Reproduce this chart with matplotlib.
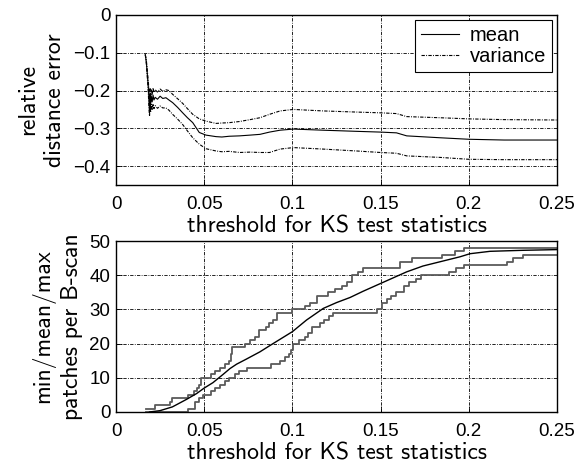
import matplotlib.pyplot as plt
import numpy as np

# ---- top panel: relative distance error ----
ks_top = [0.0166, 0.0172, 0.0178, 0.0183, 0.0187, 0.0190, 0.0193, 0.0196, 0.0200, 0.0205,
          0.0210, 0.0215, 0.0222, 0.0235, 0.0250, 0.0265, 0.0283, 0.0300, 0.0321, 0.0350,
          0.0378, 0.0405, 0.0435, 0.0472, 0.0510, 0.0567, 0.0600, 0.0642, 0.0700, 0.0760,
          0.0816, 0.0870, 0.0930, 0.1005, 0.1175, 0.1364, 0.1500, 0.1590, 0.1648, 0.1837,
          0.2000, 0.2200, 0.2500]
err_mean = [-0.105, -0.125, -0.160, -0.190, -0.225, -0.255, -0.210, -0.240, -0.215, -0.230,
            -0.212, -0.225, -0.218, -0.223, -0.215, -0.221, -0.219, -0.225, -0.232, -0.245,
            -0.259, -0.272, -0.285, -0.311, -0.318, -0.322, -0.323, -0.321, -0.320, -0.318,
            -0.316, -0.310, -0.305, -0.302, -0.305, -0.308, -0.310, -0.312, -0.320, -0.325,
            -0.329, -0.331, -0.331]
err_upper = [-0.105, -0.120, -0.150, -0.175, -0.200, -0.235, -0.195, -0.220, -0.197, -0.212,
             -0.193, -0.205, -0.198, -0.204, -0.196, -0.202, -0.198, -0.200, -0.210, -0.222,
             -0.234, -0.248, -0.263, -0.275, -0.281, -0.287, -0.286, -0.285, -0.282, -0.277,
             -0.272, -0.263, -0.254, -0.250, -0.254, -0.257, -0.259, -0.261, -0.269, -0.272,
             -0.275, -0.277, -0.278]
err_lower = [-0.105, -0.130, -0.170, -0.205, -0.250, -0.268, -0.230, -0.258, -0.237, -0.252,
             -0.235, -0.248, -0.240, -0.247, -0.241, -0.246, -0.246, -0.252, -0.263, -0.276,
             -0.290, -0.307, -0.325, -0.342, -0.354, -0.360, -0.362, -0.361, -0.364, -0.363,
             -0.364, -0.364, -0.355, -0.351, -0.355, -0.360, -0.364, -0.366, -0.373, -0.377,
             -0.382, -0.383, -0.383]

# ---- bottom panel: patches per B-scan ----
ks_max = [0.017, 0.022, 0.0305, 0.032, 0.041, 0.044, 0.046, 0.047, 0.048, 0.054, 0.056,
          0.059, 0.062, 0.064, 0.065, 0.066, 0.073, 0.076, 0.079, 0.081, 0.085, 0.087,
          0.089, 0.091, 0.0996, 0.107, 0.110, 0.114, 0.120, 0.124, 0.128, 0.131, 0.134,
          0.137, 0.140, 0.161, 0.168, 0.185, 0.192, 0.197, 0.25]
n_max = [1, 2, 3, 4, 5, 6, 7, 8, 10, 11, 12, 13, 14, 15, 17, 19, 20, 21, 22, 24, 25, 26,
         27, 29, 30, 31, 32, 34, 35, 36, 37, 38, 40, 41, 42, 44, 45, 46, 47, 48, 48]

ks_min = [0.017, 0.041, 0.045, 0.047, 0.0495, 0.054, 0.056, 0.059, 0.062, 0.064, 0.0675,
          0.070, 0.074, 0.088, 0.093, 0.0956, 0.098, 0.099, 0.1003, 0.104, 0.107, 0.109,
          0.111, 0.1156, 0.118, 0.121, 0.123, 0.1478, 0.1506, 0.1534, 0.156, 0.159, 0.163,
          0.166, 0.170, 0.173, 0.189, 0.193, 0.197, 0.2215, 0.225, 0.231, 0.25]
n_min = [0, 1, 3, 4, 5, 6, 7, 8, 9, 10, 11, 12, 13, 14, 15, 16, 17, 18, 20, 21, 22, 23,
         25, 26, 27, 28, 29, 30, 32, 33, 34, 35, 37, 38, 39, 40, 41, 42, 43, 44, 45, 46, 46]

ks_mean = [0.019, 0.025, 0.032, 0.040, 0.0457, 0.050, 0.055, 0.0607, 0.0646, 0.0684,
           0.074, 0.0816, 0.089, 0.100, 0.108, 0.1175, 0.125, 0.1327, 0.140, 0.150,
           0.1648, 0.174, 0.195, 0.2007, 0.212, 0.231, 0.25]
n_mean = [0.0, 0.4, 1.5, 3.7, 5.4, 7.0, 8.6, 11.0, 12.7, 14.0, 15.5, 17.6, 20.0, 23.5,
          26.9, 30.3, 32.0, 33.5, 35.3, 37.6, 41.0, 42.7, 45.4, 46.3, 47.0, 47.3, 47.5]

label_font = 'cmss10'
tick_font = 'Liberation Sans'
grid_kw = dict(color='black', linestyle=(0, (4, 1.6, 1, 1.6)), linewidth=0.6)
dashdot = (0, (3, 1.2, 0.8, 1.2))

fig = plt.figure(figsize=(5.88, 4.67), dpi=100)
ax1 = fig.add_axes([0.1973, 0.6039, 0.75, 0.364])
ax2 = fig.add_axes([0.1973, 0.1178, 0.75, 0.366])

ax1.plot(ks_top, err_mean, color='black', linewidth=0.8, label='mean')
ax1.plot(ks_top, err_upper, color='black', linewidth=0.8, linestyle=dashdot, label='variance')
ax1.plot(ks_top, err_lower, color='black', linewidth=0.8, linestyle=dashdot)
ax1.set_xlim(0, 0.25)
ax1.set_ylim(-0.45, 0)
ax1.set_yticks([0, -0.1, -0.2, -0.3, -0.4])
ax1.set_yticklabels(['0', '\u22120.1', '\u22120.2', '\u22120.3', '\u22120.4'])
ax1.set_ylabel('relative\ndistance error', fontsize=17, family=label_font,
               linespacing=1.3, labelpad=5)
leg = ax1.legend(loc='upper right', fancybox=False, edgecolor='black', framealpha=1,
                 prop={'family': tick_font, 'size': 14.5},
                 borderaxespad=0.25, handlelength=1.9, handletextpad=0.5,
                 labelspacing=0.1, borderpad=0.3)
leg.get_frame().set_linewidth(0.8)

ax2.step(ks_max, n_max, where='post', color='#5a5a5a', linewidth=1.3)
ax2.step(ks_min, n_min, where='post', color='#5a5a5a', linewidth=1.3)
ax2.plot(ks_mean, n_mean, color='black', linewidth=1.0)
ax2.set_xlim(0, 0.25)
ax2.set_ylim(0, 50)
ax2.set_yticks([0, 10, 20, 30, 40, 50])
ax2.set_ylabel('min/mean/max\npatches per B-scan', fontsize=17, family=label_font,
               linespacing=1.3, labelpad=5)

for ax in (ax1, ax2):
    ax.set_xticks([0, 0.05, 0.1, 0.15, 0.2, 0.25])
    ax.set_xticklabels(['0', '0.05', '0.1', '0.15', '0.2', '0.25'])
    ax.set_xlabel('threshold for KS test statistics', fontsize=17, family=label_font, labelpad=2)
    ax.grid(True, **grid_kw)
    ax.tick_params(direction='in', length=4, width=0.6, labelsize=13.5)
    ax.tick_params(axis='x', pad=8)
    ax.tick_params(axis='y', pad=4)
    for lab in ax.get_xticklabels() + ax.get_yticklabels():
        lab.set_family(tick_font)
    for sp in ax.spines.values():
        sp.set_linewidth(1.0)

fig.savefig('out.png', dpi=100)
